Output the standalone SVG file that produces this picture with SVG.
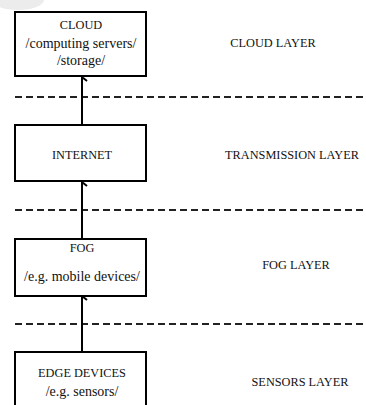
<svg xmlns="http://www.w3.org/2000/svg" width="366" height="405" viewBox="0 0 366 405">
<style>
.box{fill:#fff;stroke:#000;stroke-width:2}
.t{font-family:"Liberation Serif","Times New Roman",serif;font-size:12.3px;fill:#111;text-anchor:middle}
.s{font-size:14px}
.dash{stroke:#222;stroke-width:2;stroke-dasharray:7 4}
.arr{stroke:#000;stroke-width:2;fill:none}
</style>
<defs>
<marker id="ah" viewBox="0 0 10 10" refX="5" refY="1" markerWidth="10" markerHeight="10" markerUnits="userSpaceOnUse" orient="auto-start-reverse">
<path d="M1,6 L5,1 L9,6" fill="none" stroke="#000" stroke-width="2"/>
</marker>
</defs>
<rect width="366" height="405" fill="#fff"/>
<ellipse cx="18" cy="0" rx="26" ry="10" fill="#ececec"/>
<g id="separators">
<line class="dash" x1="15" y1="97" x2="366" y2="97"/>
<line class="dash" x1="15" y1="210" x2="366" y2="210"/>
<line class="dash" x1="15" y1="324" x2="366" y2="324"/>
</g>
<g id="connectors">
<line class="arr" x1="82" y1="124" x2="82" y2="77" marker-end="url(#ah)"/>
<line class="arr" x1="82" y1="238" x2="82" y2="182" marker-end="url(#ah)"/>
<line class="arr" x1="82" y1="351" x2="82" y2="296" marker-end="url(#ah)"/>
</g>
<g id="cloud">
<rect class="box" x="15" y="12" width="131" height="64"/>
<text class="t" x="81" y="29">CLOUD</text>
<text class="t s" x="81" y="48">/computing servers/</text>
<text class="t s" x="81" y="65">/storage/</text>
</g>
<g id="internet">
<rect class="box" x="15" y="125" width="131" height="56"/>
<text class="t" x="82" y="159">INTERNET</text>
</g>
<g id="fog">
<rect class="box" x="15" y="239" width="131" height="57"/>
<text class="t" x="82" y="252">FOG</text>
<text class="t s" x="82" y="281">/e.g. mobile devices/</text>
</g>
<g id="edge">
<rect class="box" x="15" y="352" width="131" height="60"/>
<text class="t" x="82" y="377">EDGE DEVICES</text>
<text class="t s" x="82" y="396">/e.g. sensors/</text>
</g>
<g id="layers">
<text class="t" x="273" y="47">CLOUD LAYER</text>
<text class="t" x="292" y="159">TRANSMISSION LAYER</text>
<text class="t" x="296" y="269">FOG LAYER</text>
<text class="t" x="300" y="386">SENSORS LAYER</text>
</g>
</svg>
